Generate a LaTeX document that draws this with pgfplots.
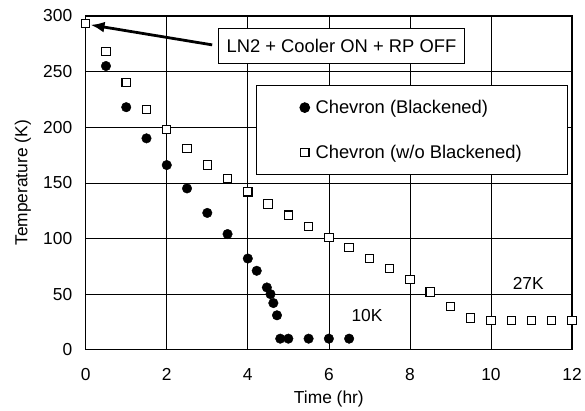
\documentclass[border=0pt]{standalone}
\usepackage{fontspec}
\setmainfont{Liberation Sans}
\usepackage{pgfplots}
\pgfplotsset{compat=1.18}
\usetikzlibrary{arrows.meta}

\newcommand{\tickfont}{\fontsize{17.5}{20}\selectfont}
\newcommand{\boxfont}{\fontsize{18.5}{21}\selectfont}

\begin{document}
\begin{tikzpicture}
\begin{axis}[
    scale only axis,
    width=488bp, height=335bp,
    xmin=0, xmax=12, ymin=0, ymax=300,
    xtick={0,2,...,12}, ytick={0,50,...,300},
    grid=major,
    major grid style={black, line width=0.7bp},
    axis line style={black, line width=1.2bp},
    major tick length=0pt,
    clip=false,
    /pgf/number format/assume math mode=true,
    tick label style={font=\tickfont},
    yticklabel style={xshift=-10bp},
    xticklabel style={yshift=-15bp},
    label style={font=\tickfont},
    xlabel={Time (hr)},
    ylabel={Temperature (K)},
    xlabel style={at={(axis description cs:0.5,-0.162)}, anchor=base},
    ylabel style={at={(axis description cs:-0.12,0.5)}, anchor=base},
    legend cell align=left,
    legend style={at={(rel axis cs:0.992,0.794)}, anchor=north east,
        font=\boxfont, draw=black, line width=1.1bp, fill=white,
        inner xsep=44bp, inner ysep=13bp, row sep=26bp,
        /tikz/every odd column/.append style={column sep=4bp}},
]

% Chevron blackened
\addplot[only marks, mark=*, mark size=4.8bp, black]
coordinates{(0.5,255)(1,218)(1.5,190)(2,166)(2.5,145)(3,123)(3.5,104)(4,82)
(4.22,71)(4.47,56)(4.56,50)(4.63,42)(4.72,31)(4.8,10)(5,10)(5.5,10)(6,10)(6.5,10)};

% Chevron without blackening
\addplot[only marks, mark=square*, mark size=4.2bp,
    mark options={fill=white, draw=black, line width=1.1bp}]
coordinates{(0,293)(0.5,268)(1,240)(1.5,216)(2,198)(2.5,181)(3,166)(3.5,154)
(4,142)(4.5,131)(5,121)(5.5,111)(6,101)(6.5,92)(7,82)(7.5,73)(8,63)(8.5,52)
(9,39)(9.5,28.5)(10,26.5)(10.5,26.5)(11,26.5)(11.5,26.5)(12,26.5)};

\legend{Chevron (Blackened), Chevron (w/o Blackened)}

\draw[line width=2.8bp, -{Latex[length=14bp,width=11bp]}]
    (axis cs:3.12,274) -- (axis cs:0.12,292);
\node[draw, line width=1.1bp, fill=white, minimum width=247bp,
    minimum height=36bp, font=\boxfont] at (axis cs:6.31,273)
    {LN2 + Cooler ON + RP OFF};
\node[font=\tickfont] at (axis cs:6.94,31) {10K};
\node[font=\tickfont] at (axis cs:10.92,60) {27K};
\end{axis}
\path (current axis.south west) ++(-86bp,-59bp) rectangle ++(585bp,410bp);
\end{tikzpicture}
\end{document}
